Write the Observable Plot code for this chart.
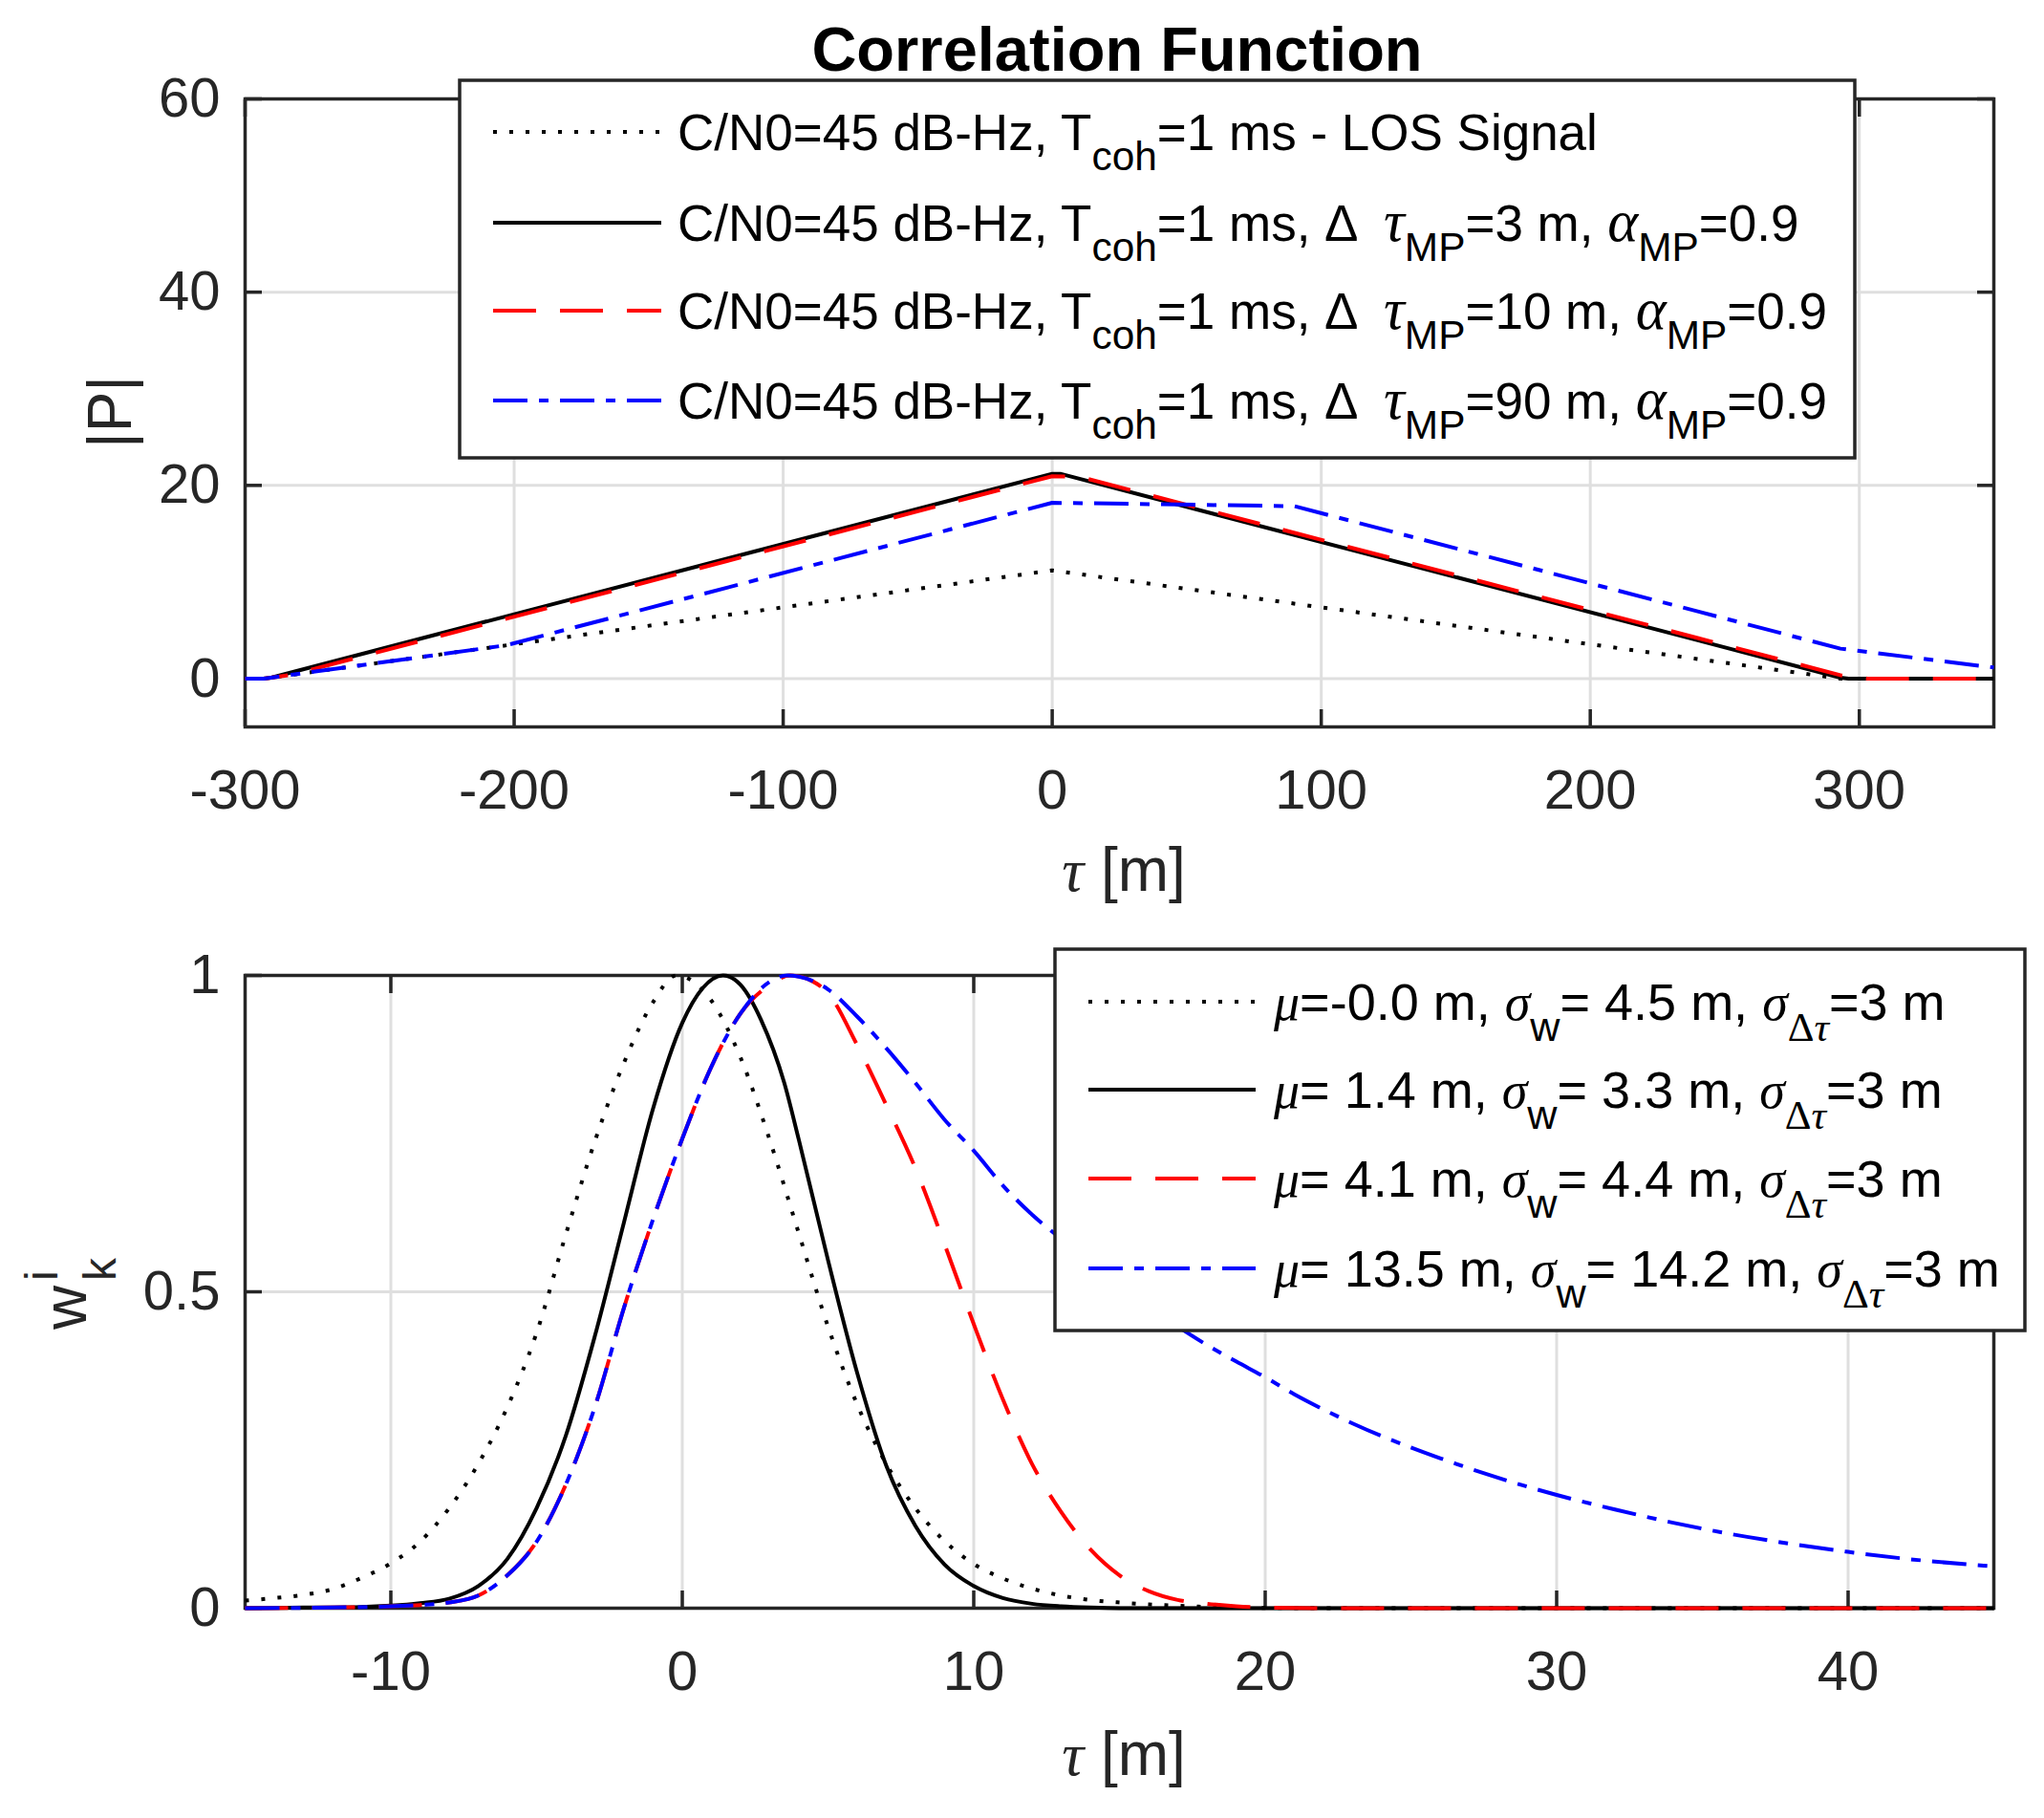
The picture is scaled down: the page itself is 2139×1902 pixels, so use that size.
<!DOCTYPE html>
<html><head><meta charset="utf-8">
<script src="https://cdn.jsdelivr.net/npm/d3@7"></script>
<script src="https://cdn.jsdelivr.net/npm/@observablehq/plot@0.6"></script>
<style>
html,body{margin:0;padding:0;background:#fff;}
#wrap{position:relative;width:2139px;height:1902px;overflow:hidden;background:#fff;}
#wrap > svg{position:absolute;left:0;}
</style></head><body><div id="wrap"></div>
<script>
// ---------- data ----------
const topTicksX = [-300, -200, -100, 0, 100, 200, 300];
const topTicksY = [0, 20, 40, 60];
const botTicksX = [-10, 0, 10, 20, 30, 40];
const botTicksY = [0, 0.5, 1];

// top panel: |P| vs tau (piecewise linear vertices)
const losTau  = [-300, -293, 0, 293, 350];
const losP    = [0, 0, 11.2, 0, 0];
const mp3Tau  = [-300, -293, -290, 0, 3, 293, 296, 350];
const mp3P    = [0, 0, 0.12, 21.2, 21.2, 0.1, 0, 0];
const mp10Tau = [-300, -293, -283, 0, 10, 293, 303, 350];
const mp10P   = [0, 0, 0.38, 20.95, 20.9, 0.35, 0, 0];
const mp90Tau = [-300, -293, -203, 0, 90, 293, 350];
const mp90P   = [0, 0, 3.45, 18.2, 17.85, 3.1, 1.15];

// bottom panel: w_k^i vs tau
const wLosTau = [-15,-14,-13,-12,-11,-10,-9,-8,-7,-6,-5,-4,-3,-2,-1,-0.2,1,2,3,4,5,6,7,8,9,10,11,12,13,14,15,16,17,18,19,20,22,45];
const wLosW   = [0.012,0.016,0.021,0.03,0.048,0.071,0.105,0.158,0.228,0.318,0.435,0.59,0.738,0.862,0.958,1.0,0.96,0.87,0.74,0.592,0.445,0.322,0.228,0.158,0.106,0.07,0.047,0.031,0.02,0.013,0.009,0.006,0.004,0.002,0.001,0.0005,0,0];
const wMp3Tau = [-15,-13,-11,-10,-9,-8,-7,-6,-5,-4,-3,-2,-1,0,0.7,1.4,2,2.7,3.5,4,5,6,7,8,9,10,11,12,13,14,15,45];
const wMp3W   = [0,0.001,0.002,0.004,0.008,0.015,0.035,0.078,0.158,0.272,0.43,0.61,0.79,0.925,0.98,1.0,0.985,0.93,0.83,0.74,0.55,0.372,0.225,0.13,0.069,0.035,0.016,0.007,0.003,0.001,0,0];
const wMp10Tau = [-15,-12,-10,-9,-8,-7,-6,-5,-4,-3,-2,-1,0,1,2,3,3.7,4.5,5,6,7,8,9,10,11,12,13,14,15,16,17,18,19,20,22,45];
const wMp10W   = [0,0.001,0.003,0.005,0.009,0.02,0.052,0.105,0.195,0.318,0.475,0.615,0.742,0.856,0.94,0.985,1.0,0.99,0.972,0.89,0.795,0.695,0.575,0.449,0.33,0.228,0.152,0.093,0.052,0.027,0.013,0.007,0.003,0.001,0,0];
const wMp90Tau = [-15,-12,-10,-9,-8,-7,-6,-5,-4,-3,-2,-1,0,1,2,3,3.6,4,5,6,7,8,9,10,11,12,12.8,17,18,19,20,21,22,23,24,25,26,27,28,29,30,32,34,36,38,40,42,45];
const wMp90W   = [0,0.001,0.003,0.005,0.009,0.02,0.052,0.105,0.195,0.318,0.475,0.615,0.742,0.856,0.94,0.99,1.0,0.998,0.978,0.935,0.885,0.83,0.772,0.723,0.668,0.622,0.591,0.445,0.416,0.39,0.365,0.338,0.314,0.292,0.272,0.254,0.237,0.221,0.206,0.192,0.179,0.156,0.135,0.117,0.102,0.089,0.078,0.066];

// text
const titleText = "Correlation Function";
const legendTop = [
  [["C/N0=45 dB-Hz, T"],["coh","sub"],["=1 ms - LOS Signal"]],
  [["C/N0=45 dB-Hz, T"],["coh","sub"],["=1 ms, Δ  "],["τ","m"],["MP","sub"],["=3 m, "],["α","m"],["MP","sub"],["=0.9"]],
  [["C/N0=45 dB-Hz, T"],["coh","sub"],["=1 ms, Δ  "],["τ","m"],["MP","sub"],["=10 m, "],["α","m"],["MP","sub"],["=0.9"]],
  [["C/N0=45 dB-Hz, T"],["coh","sub"],["=1 ms, Δ  "],["τ","m"],["MP","sub"],["=90 m, "],["α","m"],["MP","sub"],["=0.9"]]
];
const legendBot = [
  [["μ","m"],["=-0.0 m, "],["σ","m"],["w","sub"],["= 4.5 m, "],["σ","m"],["Δ","subs"],["τ","subm"],["=3 m"]],
  [["μ","m"],["= 1.4 m, "],["σ","m"],["w","sub"],["= 3.3 m, "],["σ","m"],["Δ","subs"],["τ","subm"],["=3 m"]],
  [["μ","m"],["= 4.1 m, "],["σ","m"],["w","sub"],["= 4.4 m, "],["σ","m"],["Δ","subs"],["τ","subm"],["=3 m"]],
  [["μ","m"],["= 13.5 m, "],["σ","m"],["w","sub"],["= 14.2 m, "],["σ","m"],["Δ","subs"],["τ","subm"],["=3 m"]]
];

// ---------- styles ----------
const FONT = "'Liberation Sans', Arial, Helvetica, sans-serif";
const SERIF = "'Liberation Serif', 'DejaVu Serif', serif";
const AXC = "#262626";
const GRID = "#dfdfdf";
const LW = 4;
const styles = [
  {stroke: "#000000", dash: "4,13"},
  {stroke: "#000000", dash: null},
  {stroke: "#ff0000", dash: "45,25"},
  {stroke: "#0000ff", dash: "36,12,10,12"}
];

const series = (xs, ys) => xs.map((x, i) => ({x, y: ys[i]}));
const fmt = d => `${d}`;

function axesMarks(xt, yt) {
  const tk = {stroke: AXC, strokeWidth: 3.5, fill: "none", label: null};
  return [
    Plot.gridX(xt, {stroke: GRID, strokeOpacity: 1, strokeWidth: 3}),
    Plot.gridY(yt, {stroke: GRID, strokeOpacity: 1, strokeWidth: 3}),
    Plot.frame({stroke: AXC, strokeWidth: 3.5}),
    Plot.axisX(xt, {...tk, anchor: "bottom", tickSize: 18, dy: -18}),
    Plot.axisX(xt, {...tk, anchor: "top", tickSize: 18, dy: 18}),
    Plot.axisY(yt, {...tk, anchor: "left", tickSize: 18, dx: 18}),
    Plot.axisY(yt, {...tk, anchor: "right", tickSize: 18, dx: -18}),
    Plot.axisX(xt, {anchor: "bottom", tickSize: 0, tickPadding: 44, tickFormat: fmt, label: null, fill: AXC, fontSize: 58}),
    Plot.axisY(yt, {anchor: "left", tickSize: 0, tickPadding: 26, tickFormat: fmt, label: null, fill: AXC, fontSize: 58})
  ];
}

function lineMarks(list, curve) {
  return list.map((d, i) => Plot.line(d, {
    x: "x", y: "y", stroke: styles[i].stroke, strokeWidth: LW,
    strokeDasharray: styles[i].dash, strokeLinecap: "butt", strokeLinejoin: "round", curve
  }));
}

const wrap = document.getElementById("wrap");

const topPlot = Plot.plot({
  width: 2139, height: 960,
  marginLeft: 256, marginRight: 53, marginTop: 103, marginBottom: 200,
  style: {fontFamily: FONT, background: "transparent", color: AXC},
  x: {domain: [-300, 350]},
  y: {domain: [-5, 60]},
  marks: [
    ...axesMarks(topTicksX, topTicksY),
    ...lineMarks([series(losTau, losP), series(mp3Tau, mp3P), series(mp10Tau, mp10P), series(mp90Tau, mp90P)], "linear")
  ]
});
topPlot.style.top = "0px";
wrap.appendChild(topPlot);

const botPlot = Plot.plot({
  width: 2139, height: 942,
  marginLeft: 256, marginRight: 53, marginTop: 60, marginBottom: 220,
  style: {fontFamily: FONT, background: "transparent", color: AXC},
  x: {domain: [-15, 45]},
  y: {domain: [0, 1]},
  marks: [
    ...axesMarks(botTicksX, botTicksY),
    ...lineMarks([series(wLosTau, wLosW), series(wMp3Tau, wMp3W), series(wMp10Tau, wMp10W), series(wMp90Tau, wMp90W)], "monotone-x")
  ]
});
botPlot.style.top = "960px";
wrap.appendChild(botPlot);

// ---------- overlay: title, labels, legends ----------
const ov = d3.create("svg").attr("width", 2139).attr("height", 1902)
  .style("top", "0px").attr("font-family", FONT);

function rich(g, x, y, segs, fs, anchor, greekScale = 1) {
  const t = g.append("text").attr("x", x).attr("y", y).attr("font-size", fs)
    .attr("fill", "#000").style("white-space", "pre");
  if (anchor) t.attr("text-anchor", anchor);
  let cur = 0;
  for (const [s, st = ""] of segs) {
    const sub = st.startsWith("sub");
    const target = sub ? fs * 0.4 : 0;
    const sp = t.append("tspan").attr("dy", target - cur).text(s);
    cur = target;
    if (sub) sp.attr("font-size", fs * 0.8);
    if (st === "m") sp.attr("font-size", fs * greekScale);
    if (st === "m" || st === "subm") sp.attr("font-family", SERIF).attr("font-style", "italic");
    if (st === "subs") sp.attr("font-family", SERIF);
  }
  return t;
}

// title
ov.append("text").attr("x", 1169).attr("y", 74).attr("text-anchor", "middle")
  .attr("font-size", 65).attr("font-weight", "bold").attr("fill", "#000").text(titleText);

// x labels
rich(ov, 1176, 932, [["τ","m"],[" [m]"]], 64, "middle").attr("fill", AXC);
rich(ov, 1176, 1857, [["τ","m"],[" [m]"]], 64, "middle").attr("fill", AXC);

// y labels
ov.append("g").attr("transform", "translate(137,431) rotate(-90)")
  .append("text").attr("text-anchor", "middle").attr("font-size", 64).attr("fill", AXC).text("|P|");
const gw = ov.append("g").attr("transform", "translate(90,1355) rotate(-90)").attr("fill", AXC);
gw.append("text").attr("x", -36).attr("y", 0).attr("font-size", 64).text("w");
gw.append("text").attr("x", 15).attr("y", -30).attr("font-size", 48).text("i");
gw.append("text").attr("x", 15).attr("y", 31).attr("font-size", 48).text("k");

// legends
function legend(box, rows, sx1, sx2, tx, rowsY, fs, greekScale) {
  const g = ov.append("g");
  g.append("rect").attr("x", box[0]).attr("y", box[1]).attr("width", box[2]).attr("height", box[3])
    .attr("fill", "#fff").attr("stroke", AXC).attr("stroke-width", 3.5);
  rows.forEach((segs, i) => {
    const yc = rowsY[i];
    g.append("line").attr("x1", sx1).attr("x2", sx2).attr("y1", yc).attr("y2", yc)
      .attr("stroke", styles[i].stroke).attr("stroke-width", LW)
      .attr("stroke-dasharray", styles[i].dash);
    rich(g, tx, yc + 0.358 * fs, segs, fs, null, greekScale);
  });
}
legend([481, 84, 1460, 395], legendTop, 516, 692, 709, [138, 233, 325, 419], 53, 1.15);
legend([1104, 993, 1015, 399], legendBot, 1139, 1314, 1333, [1048, 1140, 1233, 1327], 54, 1.0);

wrap.appendChild(ov.node());
</script>
</body></html>
